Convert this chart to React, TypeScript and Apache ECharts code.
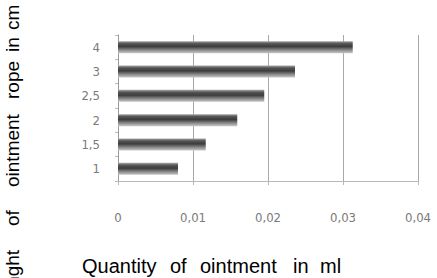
import React, { useEffect, useRef } from "react";
import * as echarts from "echarts";

const categories = ["1", "1,5", "2", "2,5", "3", "4"];
const values = [0.008, 0.0117, 0.0159, 0.0195, 0.0236, 0.0313];
const xTickLabels = ["0", "0,01", "0,02", "0,03", "0,04"];
const xTitleWords = ["Quantity", "of", "ointment", "in", "ml"];
const yTitleWords = ["Lenght", "of", "ointment", "rope", "in", "cm"];

export default function App() {
  const ref = useRef<HTMLDivElement>(null);
  useEffect(() => {
    if (!ref.current) return;
    const chart = echarts.init(ref.current, null, { renderer: "svg" });
    const labelFont = "'Liberation Sans Narrow', 'DejaVu Sans Condensed', 'Liberation Sans', sans-serif";
    const titleFont = "'Liberation Sans', Arial, sans-serif";
    const xWordX = [82, 170, 200, 293, 320];
    const yWordBottom = [308, 226, 187, 99, 52, 30];
    const graphics: any[] = [];
    xTitleWords.forEach((w, i) => {
      graphics.push({
        type: "text",
        left: xWordX[i],
        top: 256,
        style: { text: w, fill: "#000", font: `20px ${titleFont}` },
      });
    });
    yTitleWords.forEach((w, i) => {
      graphics.push({
        type: "text",
        x: 22,
        y: yWordBottom[i],
        rotation: Math.PI / 2,
        style: {
          text: w,
          fill: "#000",
          font: `19px ${titleFont}`,
          textAlign: "left",
          textVerticalAlign: "bottom",
        },
      });
    });
    chart.setOption({
      animation: false,
      backgroundColor: "#fff",
      grid: { left: 118, right: 19, top: 35, bottom: 97, containLabel: false },
      xAxis: {
        type: "value",
        min: 0,
        max: 0.04,
        interval: 0.01,
        axisLine: { show: true, lineStyle: { color: "#b8b8b8", width: 1 } },
        axisTick: { show: true, length: 4, lineStyle: { color: "#b8b8b8" } },
        splitLine: { show: true, lineStyle: { color: "#a8a8a8", width: 1 } },
        axisLabel: {
          margin: 30,
          color: "#7a7a7a",
          fontFamily: labelFont,
          fontSize: 13,
          formatter: (v: number) => xTickLabels[Math.round(v / 0.01)] ?? "",
        },
      },
      yAxis: {
        type: "category",
        data: categories,
        axisLine: { show: true, lineStyle: { color: "#9a9a9a", width: 1 } },
        axisTick: { show: true, length: 3, alignWithLabel: false, lineStyle: { color: "#bbb" } },
        axisLabel: {
          margin: 18,
          color: "#7a7a7a",
          fontFamily: labelFont,
          fontSize: 13,
        },
      },
      series: [
        {
          type: "bar",
          data: values,
          barWidth: 12,
          itemStyle: {
            color: new echarts.graphic.LinearGradient(0, 0, 0, 1, [
              { offset: 0, color: "#a8a8a8" },
              { offset: 0.2, color: "#555" },
              { offset: 0.45, color: "#3c3c3c" },
              { offset: 0.75, color: "#8c8c8c" },
              { offset: 1, color: "#c8c8c8" },
            ]),
          },
        },
      ],
      graphic: graphics,
    });
    return () => chart.dispose();
  }, []);
  return (
    <div
      ref={ref}
      style={{ position: "fixed", left: 0, top: 0, width: 437, height: 278 }}
    />
  );
}
